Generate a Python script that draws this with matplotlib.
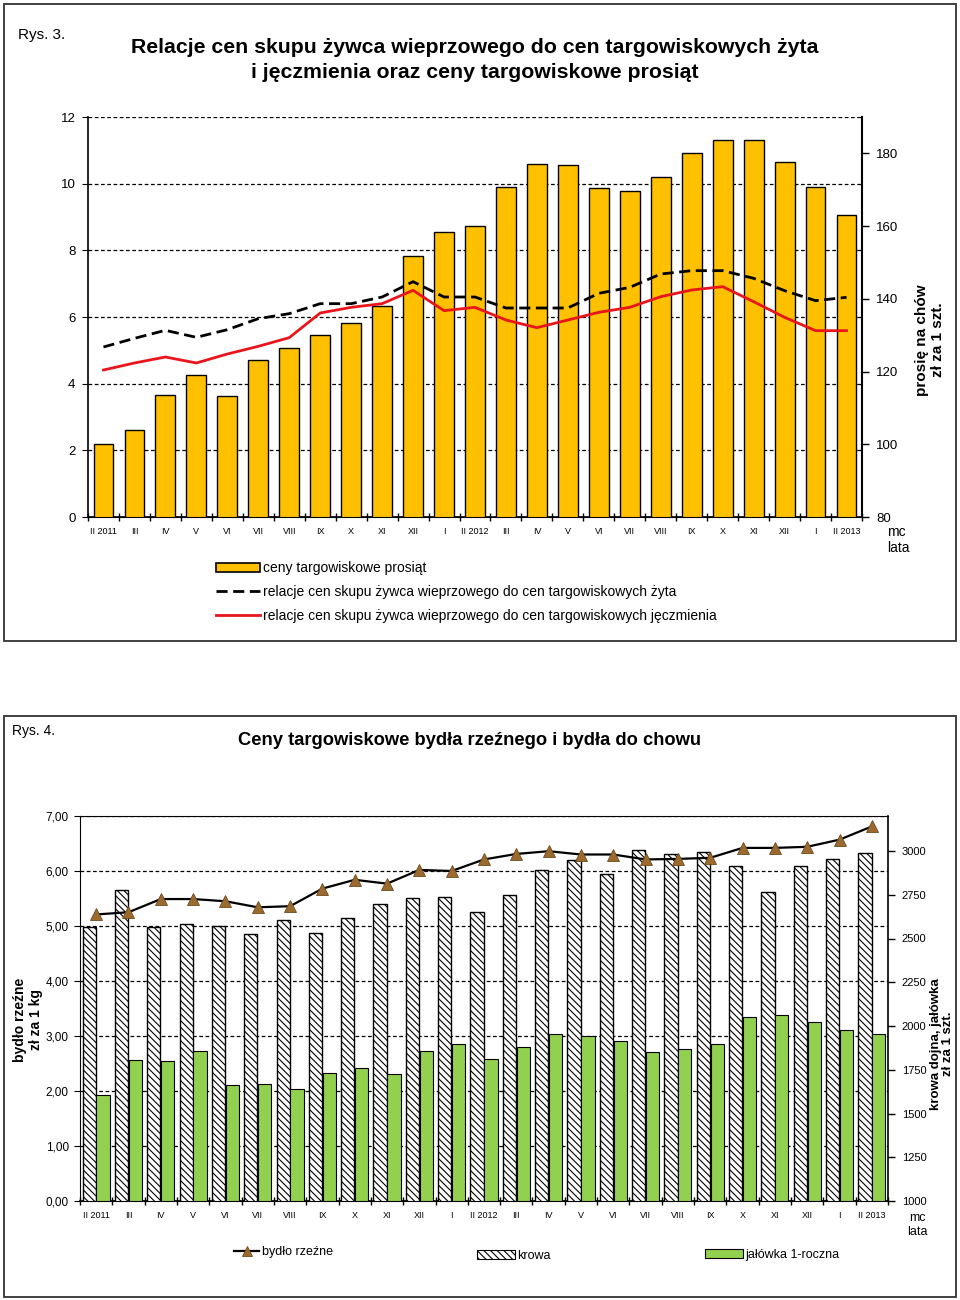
import numpy as np
import matplotlib.pyplot as plt
from matplotlib.patches import Rectangle, Patch
from matplotlib.lines import Line2D
from matplotlib.ticker import FuncFormatter

plt.rcParams['font.family'] = ['Liberation Sans', 'DejaVu Sans']
plt.rcParams['hatch.linewidth'] = 0.8

miesiace = ['II 2011', 'III', 'IV', 'V', 'VI', 'VII', 'VIII', 'IX', 'X', 'XI', 'XII', 'I',
            'II 2012', 'III', 'IV', 'V', 'VI', 'VII', 'VIII', 'IX', 'X', 'XI', 'XII', 'I', 'II 2013']

# Rys. 3
prosieta = [100.1, 104.0, 113.5, 119.0, 113.2, 123.2, 126.4, 130.1, 133.4, 137.9, 151.9, 158.3, 159.9,
            170.8, 177.2, 176.9, 170.6, 169.6, 173.4, 180.0, 183.6, 183.6, 177.5, 170.8, 163.1]
relacja_zyto = [5.10, 5.36, 5.60, 5.39, 5.62, 5.95, 6.10, 6.40, 6.40, 6.60, 7.06, 6.60, 6.60,
                6.27, 6.27, 6.27, 6.71, 6.89, 7.29, 7.39, 7.39, 7.16, 6.79, 6.49, 6.59]
relacja_jeczmien = [4.41, 4.62, 4.80, 4.62, 4.89, 5.12, 5.38, 6.12, 6.29, 6.40, 6.80, 6.19, 6.29,
                    5.91, 5.68, 5.91, 6.14, 6.29, 6.61, 6.81, 6.91, 6.46, 5.99, 5.59, 5.59]

# Rys. 4
bydlo_rzezne = [5.21, 5.25, 5.49, 5.49, 5.45, 5.34, 5.36, 5.68, 5.84, 5.77, 6.02, 6.00, 6.21,
                6.31, 6.36, 6.30, 6.30, 6.21, 6.22, 6.24, 6.42, 6.42, 6.44, 6.57, 6.81]
krowa = [2563, 2780, 2563, 2584, 2570, 2527, 2607, 2532, 2618, 2700, 2734, 2740, 2651,
         2746, 2889, 2950, 2866, 3008, 2981, 2992, 2912, 2765, 2916, 2956, 2987]
jalowka = [1603, 1805, 1800, 1857, 1664, 1670, 1641, 1731, 1759, 1725, 1857, 1895, 1811,
           1879, 1957, 1942, 1913, 1850, 1869, 1896, 2053, 2064, 2022, 1980, 1957]

ZOLTY = '#FFC000'
CZERWONY = '#E8161C'
ZIELONY = '#92D050'
BRAZ = '#9B6A2F'
dash = (0, (3, 2))

x = np.arange(len(miesiace))
W, H = 960, 1300

fig = plt.figure(figsize=(9.6, 13), dpi=100)

# ramki obu rysunkow
for top, bot in [(4, 641), (716, 1297)]:
    fig.patches.append(Rectangle((4 / W, 1 - bot / H), 952 / W, (bot - top) / H,
                                 transform=fig.transFigure, fill=False, ec='#333333', lw=1.3))


def os_x(ax):
    ax.set_xlim(-0.5, len(miesiace) - 0.5)
    ax.set_xticks(x)
    ax.set_xticklabels(miesiace, fontsize=6.5)
    ax.set_xticks(np.arange(-0.5, len(miesiace), 1), minor=True)
    ax.tick_params(axis='x', which='major', length=0, pad=7)
    ax.tick_params(axis='x', which='minor', direction='inout', length=6, width=1)


# ---------------- Rys. 3 ----------------
fig.text(18 / W, 1 - 35 / H, 'Rys. 3.', fontsize=11, va='center')
fig.text(475 / W, 1 - 60 / H, 'Relacje cen skupu żywca wieprzowego do cen targowiskowych żyta\n'
         'i jęczmienia oraz ceny targowiskowe prosiąt',
         fontsize=15.3, fontweight='bold', ha='center', va='center', linespacing=1.35)

ax = fig.add_axes([88 / W, 1 - 517 / H, 774 / W, 400 / H])
os_x(ax)
ax.set_ylim(0, 12)
ax.set_yticks(range(0, 13, 2))
ax.yaxis.grid(True, ls=dash, color='black', lw=0.9)
ax.tick_params(axis='y', labelsize=9.5, length=4, pad=5)
ax.spines['top'].set_visible(False)
ax.spines['right'].set_visible(False)
ax.spines['left'].set_linewidth(1.2)
ax.spines['bottom'].set_linewidth(1.2)

ax2 = ax.twinx()
ax2.bar(x, prosieta, width=0.64, color=ZOLTY, edgecolor='black', lw=1)
ax2.set_ylim(80, 190)
ax2.set_yticks(range(80, 181, 20))
ax2.tick_params(axis='y', labelsize=9.5, length=5, width=1, pad=5)
for s in ['top', 'left']:
    ax2.spines[s].set_visible(False)
ax2.spines['right'].set_linewidth(1.5)

ax3 = ax.twinx()
ax3.set_ylim(0, 12)
ax3.axis('off')
ax3.plot(x, relacja_zyto, color='black', ls=(0, (4, 2)), lw=2)
ax3.plot(x, relacja_jeczmien, color=CZERWONY, lw=2)

fig.text(887 / W, 1 - 532 / H, 'mc', fontsize=10, va='center')
fig.text(887 / W, 1 - 548 / H, 'lata', fontsize=10, va='center')
fig.text(930 / W, 1 - 340 / H, 'prosię na chów\nzł za 1 szt.', fontsize=11, fontweight='bold',
         rotation=90, ha='center', va='center', linespacing=1.1)

fig.legend([Patch(fc=ZOLTY, ec='black', lw=1.2),
            Line2D([], [], color='black', ls=(0, (4, 2)), lw=2),
            Line2D([], [], color=CZERWONY, lw=2)],
           ['ceny targowiskowe prosiąt',
            'relacje cen skupu żywca wieprzowego do cen targowiskowych żyta',
            'relacje cen skupu żywca wieprzowego do cen targowiskowych jęczmienia'],
           loc='upper left', bbox_to_anchor=(216 / W, 1 - 561 / H), frameon=False, fontsize=10,
           handlelength=3.2, handleheight=0.6, handletextpad=0.15, labelspacing=0.72,
           borderaxespad=0, borderpad=0)

# ---------------- Rys. 4 ----------------
fig.text(12 / W, 1 - 731 / H, 'Rys. 4.', fontsize=10, va='center')
fig.text(470 / W, 1 - 741 / H, 'Ceny targowiskowe bydła rzeźnego i bydła do chowu',
         fontsize=13.2, fontweight='bold', ha='center', va='center')

bx = fig.add_axes([80 / W, 1 - 1201 / H, 808 / W, 385 / H])
os_x(bx)
bx.set_ylim(0, 7)
bx.set_yticks(range(0, 8))
bx.yaxis.set_major_formatter(FuncFormatter(lambda v, p: f'{v:.2f}'.replace('.', ',')))
bx.yaxis.grid(True, ls=dash, color='black', lw=0.9)
bx.tick_params(axis='y', labelsize=8.5, length=4, pad=4)
bx.spines['right'].set_visible(False)
bx.spines['top'].set_linewidth(0.8)
bx.spines['bottom'].set_linewidth(1.2)

bx2 = bx.twinx()
bw = 0.41
bx2.bar(x - bw / 2 - 0.01, krowa, width=bw, color='white', edgecolor='black', hatch='\\\\\\\\\\', lw=1)
bx2.bar(x + bw / 2 + 0.01, jalowka, width=bw, color=ZIELONY, edgecolor='black', lw=0.8)
bx2.set_ylim(1000, 3200)
bx2.set_yticks(range(1000, 3001, 250))
bx2.tick_params(axis='y', labelsize=8, length=5, width=1, pad=5)
for s in ['top', 'left']:
    bx2.spines[s].set_visible(False)
bx2.spines['right'].set_linewidth(1.2)

bx3 = bx.twinx()
bx3.set_ylim(0, 7)
bx3.axis('off')
bx3.plot(x, bydlo_rzezne, color='black', lw=1.6, marker='^', markersize=8,
         markerfacecolor=BRAZ, markeredgecolor='#6E4A1E', markeredgewidth=0.6)

fig.text(917 / W, 1 - 1218 / H, 'mc', fontsize=9, va='center', ha='center')
fig.text(917 / W, 1 - 1232 / H, 'lata', fontsize=9, va='center', ha='center')
fig.text(28 / W, 1 - 1020 / H, 'bydło rzeźne\nzł za 1 kg', fontsize=10, fontweight='bold',
         rotation=90, ha='center', va='center', linespacing=1.1)
fig.text(942 / W, 1 - 1044 / H, 'krowa dojna, jałówka\nzł za 1 szt.', fontsize=9.5, fontweight='bold',
         rotation=90, ha='center', va='center', linespacing=1.05)

wsp = dict(frameon=False, fontsize=9, handletextpad=0.2, borderaxespad=0, borderpad=0, loc='center left')
fig.legend([Line2D([], [], color='black', lw=1.6, marker='^', markersize=7,
                   markerfacecolor=BRAZ, markeredgecolor='#6E4A1E', markeredgewidth=0.6)],
           ['bydło rzeźne'], bbox_to_anchor=(234 / W, 1 - 1252 / H), handlelength=2.0, **wsp)
fig.legend([Patch(fc='white', ec='black', hatch='\\\\\\\\\\', lw=0.8)],
           ['krowa'], bbox_to_anchor=(477 / W, 1 - 1256 / H), handlelength=3.0, handleheight=0.7, **wsp)
fig.legend([Patch(fc=ZIELONY, ec='black', lw=0.8)],
           ['jałówka 1-roczna'], bbox_to_anchor=(705 / W, 1 - 1255 / H), handlelength=3.0, handleheight=0.7, **wsp)

fig.savefig('out.png', dpi=100)
